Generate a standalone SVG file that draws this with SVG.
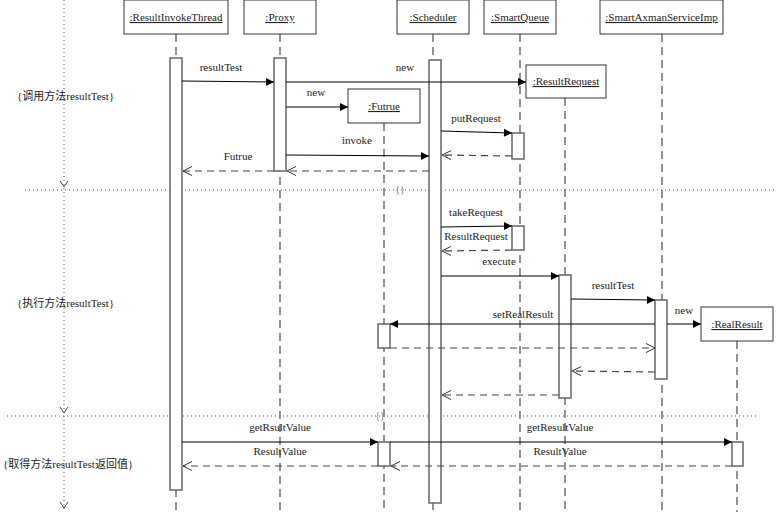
<svg xmlns="http://www.w3.org/2000/svg" width="776" height="512" viewBox="0 0 776 512">
<defs>
<marker id="fill" markerUnits="userSpaceOnUse" markerWidth="10" markerHeight="10" refX="9" refY="5" orient="auto">
<path d="M1,1 L9,5 L1,9 Z" fill="#000"/>
</marker>
<marker id="open" markerUnits="userSpaceOnUse" markerWidth="12" markerHeight="12" refX="11" refY="6" orient="auto">
<path d="M2,1.5 L11,6 L2,10.5" fill="none" stroke="#333" stroke-width="1"/>
</marker>
<style>
text{font-family:"Liberation Serif","Noto Sans CJK SC",serif;font-size:11px;fill:#222}
.hd{text-anchor:middle;text-decoration:underline}
.lb{text-anchor:middle}
.box{fill:#fff;stroke:#333;stroke-width:1}
.life{stroke:#6f6f6f;stroke-width:1.5;stroke-dasharray:8 5;fill:none}
.act{fill:#fff;stroke:#666;stroke-width:1.5}
.msg{stroke:#000;stroke-width:1;fill:none;marker-end:url(#fill)}
.ret{stroke:#444;stroke-width:1.2;stroke-dasharray:7 5;fill:none;marker-end:url(#open)}
.dot{stroke:#555;stroke-width:1;stroke-dasharray:1 3;fill:none}
.brace{font-size:10px;fill:#777}
</style>
</defs>

<g id="frames">
<line class="dot" x1="64" y1="0" x2="64" y2="512"/>
<line class="dot" x1="25" y1="190" x2="776" y2="190"/>
<line class="dot" x1="7" y1="416" x2="757" y2="416"/>
<path d="M60,181 L64,187 L68,181" fill="none" stroke="#444" stroke-width="1"/>
<path d="M60,407 L64,413 L68,407" fill="none" stroke="#444" stroke-width="1"/>
<path d="M60,502 L64,508 L68,502" fill="none" stroke="#444" stroke-width="1"/>
<text class="brace" x="400" y="193" text-anchor="middle">{}</text>
<text class="brace" x="380" y="419" text-anchor="middle">{}</text>
<text x="17" y="100">{调用方法resultTest}</text>
<text x="17" y="307">{执行方法resultTest}</text>
<text x="3" y="468">{取得方法resultTest返回值}</text>
</g>

<g id="lifelines">
<line class="life" x1="176" y1="34" x2="176" y2="512"/>
<line class="life" x1="280" y1="34" x2="280" y2="512"/>
<line class="life" x1="384" y1="123" x2="384" y2="512"/>
<line class="life" x1="433" y1="34" x2="433" y2="512"/>
<line class="life" x1="520" y1="34" x2="520" y2="512"/>
<line class="life" x1="565" y1="98" x2="565" y2="512"/>
<line class="life" x1="662" y1="34" x2="662" y2="512"/>
<line class="life" x1="737" y1="341" x2="737" y2="512"/>
</g>

<g id="ResultInvokeThread">
<rect class="box" x="124" y="0" width="104" height="34"/>
<text class="hd" x="176" y="21">:ResultInvokeThread</text>
<rect class="act" x="170" y="58" width="12" height="432"/>
</g>
<g id="Proxy">
<rect class="box" x="244" y="0" width="72" height="34"/>
<text class="hd" x="280" y="21">:Proxy</text>
<rect class="act" x="274" y="58" width="12" height="113"/>
</g>
<g id="Scheduler">
<rect class="box" x="397" y="0" width="72" height="34"/>
<text class="hd" x="433" y="21">:Scheduler</text>
<rect class="act" x="429" y="60" width="12" height="443"/>
</g>
<g id="SmartQueue">
<rect class="box" x="484" y="0" width="72" height="34"/>
<text class="hd" x="520" y="21">:SmartQueue</text>
<rect class="act" x="512" y="133" width="12" height="26"/>
<rect class="act" x="512" y="226" width="12" height="24"/>
</g>
<g id="SmartAxmanServiceImp">
<rect class="box" x="600" y="0" width="123" height="34"/>
<text class="hd" x="661.5" y="21">:SmartAxmanServiceImp</text>
<rect class="act" x="655" y="300" width="12" height="79"/>
</g>
<g id="ResultRequest">
<rect class="box" x="526" y="65" width="80" height="33"/>
<text class="hd" x="566" y="85">:ResultRequest</text>
<rect class="act" x="559" y="275" width="12" height="123"/>
</g>
<g id="Futrue">
<rect class="box" x="348" y="89" width="72" height="34"/>
<text class="hd" x="384" y="110">:Futrue</text>
<rect class="act" x="378" y="324" width="12" height="24"/>
<rect class="act" x="378" y="442" width="12" height="24"/>
</g>
<g id="RealResult">
<rect class="box" x="701" y="307" width="72" height="34"/>
<text class="hd" x="737" y="328">:RealResult</text>
<rect class="act" x="732" y="442" width="11" height="24"/>
</g>

<g id="connectors">
<line class="msg" x1="182" y1="81" x2="274" y2="82"/>
<text class="lb" x="221" y="71">resultTest</text>
<line class="msg" x1="286" y1="82" x2="526" y2="82"/>
<text class="lb" x="405" y="71">new</text>
<line class="msg" x1="286" y1="107" x2="348" y2="107"/>
<text class="lb" x="316" y="96">new</text>
<line class="msg" x1="286" y1="155" x2="429" y2="156"/>
<text class="lb" x="357" y="144">invoke</text>
<line class="ret" x1="429" y1="171" x2="287" y2="171"/>
<line class="ret" x1="274" y1="171" x2="183" y2="171"/>
<text class="lb" x="238" y="160">Futrue</text>
<line class="msg" x1="441" y1="131" x2="512" y2="133"/>
<text class="lb" x="476" y="122">putRequest</text>
<line class="ret" x1="512" y1="156" x2="442" y2="155"/>
<line class="msg" x1="441" y1="227" x2="512" y2="226"/>
<text class="lb" x="476" y="216">takeRequest</text>
<line class="ret" x1="512" y1="250" x2="442" y2="251"/>
<text class="lb" x="476" y="240">ResultRequest</text>
<line class="msg" x1="441" y1="276" x2="559" y2="276"/>
<text class="lb" x="499" y="265">execute</text>
<line class="msg" x1="571" y1="299" x2="655" y2="300"/>
<text class="lb" x="613" y="289">resultTest</text>
<line class="msg" x1="667" y1="324" x2="701" y2="324"/>
<text class="lb" x="684" y="314">new</text>
<line class="msg" x1="655" y1="324" x2="390" y2="324"/>
<text class="lb" x="523" y="318">setRealResult</text>
<line class="ret" x1="390" y1="348" x2="655" y2="348"/>
<line class="ret" x1="655" y1="372" x2="572" y2="371"/>
<line class="ret" x1="559" y1="395" x2="442" y2="395"/>
<line class="msg" x1="182" y1="442" x2="378" y2="442"/>
<text class="lb" x="280" y="431">getRsultValue</text>
<line class="msg" x1="390" y1="442" x2="732" y2="442"/>
<text class="lb" x="560" y="431">getResultValue</text>
<line class="ret" x1="732" y1="466" x2="391" y2="466"/>
<text class="lb" x="560" y="455">ResultValue</text>
<line class="ret" x1="378" y1="466" x2="183" y2="466"/>
<text class="lb" x="280" y="455">ResultValue</text>
</g>
</svg>
